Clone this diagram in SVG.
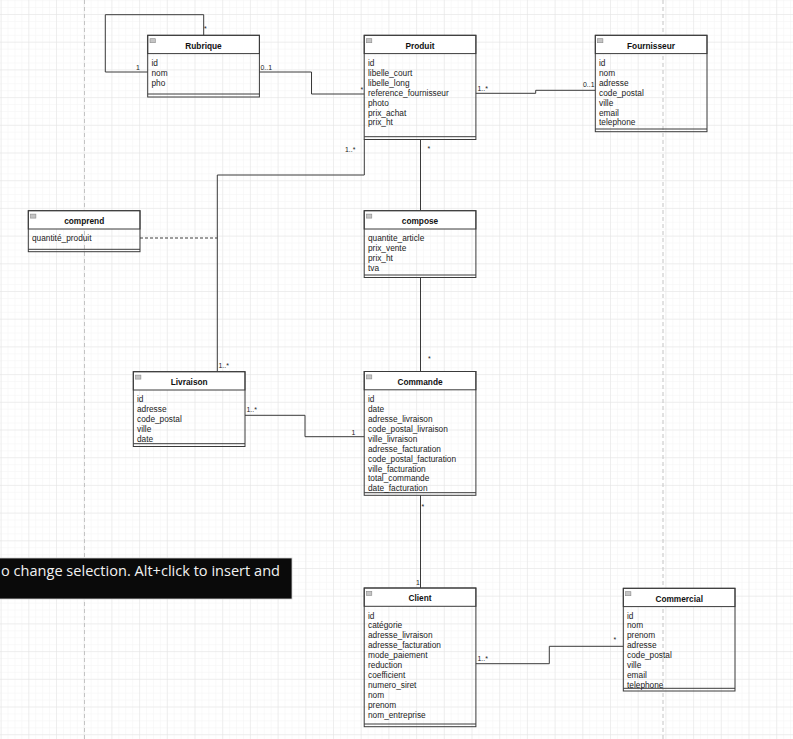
<svg xmlns="http://www.w3.org/2000/svg" width="793" height="739" viewBox="0 0 793 739">
<style>
.box{fill:none;stroke:#3a3a3a;stroke-width:1}
.hdr{fill:#ffffff;stroke:#3a3a3a;stroke-width:1}
.ttl{font-family:"Liberation Sans",Arial,sans-serif;font-size:8.3px;font-weight:bold;fill:#111;text-anchor:middle}
.att{font-family:"Liberation Sans",Arial,sans-serif;font-size:8.3px;fill:#222}
.lbl{font-family:"Liberation Sans",Arial,sans-serif;font-size:6.9px;fill:#222}
.edge{fill:none;stroke:#3a3a3a;stroke-width:1}
.icon{fill:#c4c4c4;stroke:#8a8a8a;stroke-width:0.6}
</style>
<defs>
<pattern id="minor" patternUnits="userSpaceOnUse" x="0.6" y="14" width="6.925" height="6.925">
<path d="M0 0H6.925M0 0V6.925" fill="none" stroke="#f4f4f4" stroke-width="1"/>
</pattern>
<pattern id="major" patternUnits="userSpaceOnUse" x="0.6" y="14" width="27.7" height="27.7">
<path d="M0 0H27.7M0 0V27.7" fill="none" stroke="#e4e4e4" stroke-width="1"/>
</pattern>
</defs>
<rect width="793" height="739" fill="#ffffff"/>
<rect width="793" height="739" fill="url(#minor)"/>
<rect width="793" height="739" fill="url(#major)"/>
<path d="M84.5 0V739M663 0V739" stroke="#c4c4c4" stroke-width="1" stroke-dasharray="4 3" fill="none"/>

<g id="connectors">
<path class="edge" d="M147.7 72H105.3V14.7H203.7V35.3"/>
<text class="lbl" x="136" y="70">1</text>
<text class="lbl" x="204" y="31">*</text>
<path class="edge" d="M259.3 72H311.5V94H364.2"/>
<text class="lbl" x="260.5" y="70">0..1</text>
<text class="lbl" x="360.5" y="92">*</text>
<path class="edge" d="M475.9 93.3H535.7V90.3H595.3"/>
<text class="lbl" x="477.5" y="91">1..*</text>
<text class="lbl" x="583" y="87">0..1</text>
<path class="edge" d="M364.3 139.5V175H217.3V371.7"/>
<text class="lbl" x="345" y="152">1..*</text>
<text class="lbl" x="218.5" y="368">1..*</text>
<path class="edge" d="M420.5 139.5V210.7"/>
<text class="lbl" x="427.5" y="151">*</text>
<path class="edge" d="M420.5 277.5V371.5"/>
<text class="lbl" x="428" y="361">*</text>
<path class="edge" d="M140 238H217.3" stroke-dasharray="3 2"/>
<path class="edge" d="M245 415.3H305V436.7H364.2"/>
<text class="lbl" x="246.5" y="412">1..*</text>
<text class="lbl" x="351.5" y="435">1</text>
<path class="edge" d="M420.5 495.3V588"/>
<text class="lbl" x="421.5" y="509">*</text>
<text class="lbl" x="416" y="585">1</text>
<path class="edge" d="M475.9 663.7H549.3V646.3H623.3"/>
<text class="lbl" x="477.5" y="661">1..*</text>
<text class="lbl" x="613.5" y="642">*</text>
</g>

<g id="rubrique">
<rect class="hdr" x="147.7" y="35.3" width="111.7" height="18.3"/>
<rect class="box" x="147.7" y="35.3" width="111.7" height="61.7"/>
<path class="edge" d="M147.7 94H259.4"/>
<rect class="icon" x="150" y="38.7" width="5.3" height="4"/>
<text class="ttl" x="203.5" y="48.6">Rubrique</text>
<text class="att" x="151.5" y="66">id</text>
<text class="att" x="151.5" y="75.9">nom</text>
<text class="att" x="151.5" y="85.8">pho</text>
</g>

<g id="produit">
<rect class="hdr" x="364.2" y="35.3" width="111.7" height="18.3"/>
<rect class="box" x="364.2" y="35.3" width="111.7" height="104.2"/>
<path class="edge" d="M364.2 136.7H475.9"/>
<rect class="icon" x="366.5" y="38.7" width="5.3" height="4"/>
<text class="ttl" x="420" y="48.6">Produit</text>
<text class="att" x="368" y="66">id</text>
<text class="att" x="368" y="75.9">libelle_court</text>
<text class="att" x="368" y="85.8">libelle_long</text>
<text class="att" x="368" y="95.7">reference_fournisseur</text>
<text class="att" x="368" y="105.6">photo</text>
<text class="att" x="368" y="115.5">prix_achat</text>
<text class="att" x="368" y="125.4">prix_ht</text>
</g>

<g id="fournisseur">
<rect class="hdr" x="595.3" y="35.3" width="111.7" height="18.3"/>
<rect class="box" x="595.3" y="35.3" width="111.7" height="96.4"/>
<path class="edge" d="M595.3 129H707"/>
<rect class="icon" x="597.6" y="38.7" width="5.3" height="4"/>
<text class="ttl" x="651" y="48.6">Fournisseur</text>
<text class="att" x="599" y="66">id</text>
<text class="att" x="599" y="75.9">nom</text>
<text class="att" x="599" y="85.8">adresse</text>
<text class="att" x="599" y="95.7">code_postal</text>
<text class="att" x="599" y="105.6">ville</text>
<text class="att" x="599" y="115.5">email</text>
<text class="att" x="599" y="125.4">telephone</text>
</g>

<g id="comprend">
<rect class="hdr" x="28.3" y="210.7" width="111.7" height="18.3"/>
<rect class="box" x="28.3" y="210.7" width="111.7" height="41"/>
<path class="edge" d="M28.3 249.3H140"/>
<rect class="icon" x="30.6" y="214.1" width="5.3" height="4"/>
<text class="ttl" x="84.2" y="224">comprend</text>
<text class="att" x="32" y="241.4">quantité_produit</text>
</g>

<g id="compose">
<rect class="hdr" x="364.2" y="210.7" width="111.7" height="18.3"/>
<rect class="box" x="364.2" y="210.7" width="111.7" height="66.8"/>
<path class="edge" d="M364.2 275H475.9"/>
<rect class="icon" x="366.5" y="214.1" width="5.3" height="4"/>
<text class="ttl" x="420" y="224">compose</text>
<text class="att" x="368" y="241.4">quantite_article</text>
<text class="att" x="368" y="251.3">prix_vente</text>
<text class="att" x="368" y="261.2">prix_ht</text>
<text class="att" x="368" y="271.1">tva</text>
</g>

<g id="livraison">
<rect class="hdr" x="133.3" y="371.7" width="111.7" height="18.3"/>
<rect class="box" x="133.3" y="371.7" width="111.7" height="74.8"/>
<path class="edge" d="M133.3 443.7H245"/>
<rect class="icon" x="135.6" y="375.1" width="5.3" height="4"/>
<text class="ttl" x="189.2" y="385">Livraison</text>
<text class="att" x="137" y="402.4">id</text>
<text class="att" x="137" y="412.3">adresse</text>
<text class="att" x="137" y="422.2">code_postal</text>
<text class="att" x="137" y="432.1">ville</text>
<text class="att" x="137" y="442">date</text>
</g>

<g id="commande">
<rect class="hdr" x="364.2" y="371.5" width="111.7" height="18.3"/>
<rect class="box" x="364.2" y="371.5" width="111.7" height="123.8"/>
<path class="edge" d="M364.2 492.7H475.9"/>
<rect class="icon" x="366.5" y="374.9" width="5.3" height="4"/>
<text class="ttl" x="420" y="384.8">Commande</text>
<text class="att" x="368" y="402.2">id</text>
<text class="att" x="368" y="412.1">date</text>
<text class="att" x="368" y="422">adresse_livraison</text>
<text class="att" x="368" y="431.9">code_postal_livraison</text>
<text class="att" x="368" y="441.8">ville_livraison</text>
<text class="att" x="368" y="451.7">adresse_facturation</text>
<text class="att" x="368" y="461.6">code_postal_facturation</text>
<text class="att" x="368" y="471.5">ville_facturation</text>
<text class="att" x="368" y="481.4">total_commande</text>
<text class="att" x="368" y="491.3">date_facturation</text>
</g>

<g id="client">
<rect class="hdr" x="364.2" y="588" width="111.7" height="18.3"/>
<rect class="box" x="364.2" y="588" width="111.7" height="138.7"/>
<path class="edge" d="M364.2 724H475.9"/>
<rect class="icon" x="366.5" y="591.4" width="5.3" height="4"/>
<text class="ttl" x="420" y="601.3">Client</text>
<text class="att" x="368" y="618.5">id</text>
<text class="att" x="368" y="628.4">catégorie</text>
<text class="att" x="368" y="638.3">adresse_livraison</text>
<text class="att" x="368" y="648.2">adresse_facturation</text>
<text class="att" x="368" y="658.1">mode_paiement</text>
<text class="att" x="368" y="668">reduction</text>
<text class="att" x="368" y="677.9">coefficient</text>
<text class="att" x="368" y="687.8">numero_siret</text>
<text class="att" x="368" y="697.7">nom</text>
<text class="att" x="368" y="707.6">prenom</text>
<text class="att" x="368" y="717.5">nom_entreprise</text>
</g>

<g id="commercial">
<rect class="hdr" x="623.3" y="588.3" width="111.7" height="18.3"/>
<rect class="box" x="623.3" y="588.3" width="111.7" height="102.7"/>
<path class="edge" d="M623.3 688.3H735"/>
<rect class="icon" x="625.6" y="591.7" width="5.3" height="4"/>
<text class="ttl" x="679.2" y="601.6">Commercial</text>
<text class="att" x="627" y="618.5">id</text>
<text class="att" x="627" y="628.4">nom</text>
<text class="att" x="627" y="638.3">prenom</text>
<text class="att" x="627" y="648.2">adresse</text>
<text class="att" x="627" y="658.1">code_postal</text>
<text class="att" x="627" y="668">ville</text>
<text class="att" x="627" y="677.9">email</text>
<text class="att" x="627" y="687.8">telephone</text>
</g>

<g id="tooltip">
<rect x="-1" y="558" width="293" height="41" fill="#0a0a0a" stroke="#d0d0d0" stroke-width="0.8"/>
<text x="1" y="576" font-family="'Open Sans','Noto Sans',sans-serif" font-size="15" fill="#f2f2f2" textLength="279" lengthAdjust="spacingAndGlyphs">o change selection. Alt+click to insert and</text>
</g>
</svg>
